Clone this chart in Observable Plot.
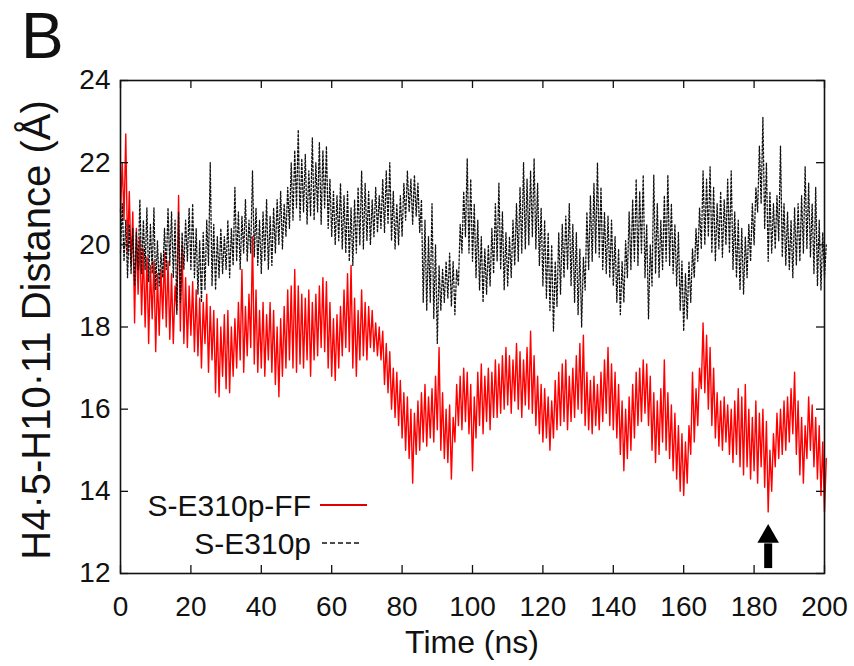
<!DOCTYPE html>
<html>
<head>
<meta charset="utf-8">
<script src="https://cdn.jsdelivr.net/npm/d3@7"></script>
<script src="https://cdn.jsdelivr.net/npm/@observablehq/plot@0.6"></script>
<style>
  html, body { margin: 0; padding: 0; background: #fff; }
  #wrap { position: relative; width: 854px; height: 666px; font-family: "Liberation Sans", Arial, sans-serif; color: #111; overflow: hidden; }
  #wrap svg.plot { position: absolute; left: 0; top: 0; }
  .ov { position: absolute; white-space: nowrap; line-height: 1; }
</style>
</head>
<body>
<div id="wrap">
  <div class="ov" id="panel" style="left:21px; top:1px; font-size:64px; line-height:1.12;">B</div>
  <div class="ov" id="ylab" style="left:36px; top:330px; font-size:40px; transform: translate(-50%,-50%) rotate(-90deg);">H4·5-H10·11 Distance (Å)</div>
  <div class="ov" id="xlab" style="left:472px; top:626px; font-size:32px; transform: translateX(-50%);">Time (ns)</div>
  <div class="ov" style="left:0; width:311px; text-align:right; top:491px; font-size:30px;">S-E310p-FF</div>
  <div class="ov" style="left:0; width:311px; text-align:right; top:529px; font-size:30px;">S-E310p</div>
  <svg class="ov" width="60" height="80" style="left:315px; top:480px;">
    <line x1="5" x2="52" y1="25" y2="25" stroke="#e00000" stroke-width="2"></line>
    <line x1="7" x2="47" y1="63" y2="63" stroke="#111" stroke-width="1.5" stroke-dasharray="5,3"></line>
  </svg>
</div>
<script>
// ---- data (1-ns bins: low / high envelope) ----
const times = d3.range(0, 201); // ns
const redLo = [20.8,20.6,19.8,19.5,18.1,18.8,18.3,18.0,17.6,18.2,
17.4,17.8,18.2,18.0,17.7,17.6,18.4,17.9,17.6,17.5,
17.8,17.4,17.3,17.0,17.6,16.9,17.2,16.4,16.3,16.8,
16.5,16.4,16.8,17.0,17.2,16.9,17.3,17.5,17.1,16.9,
17.0,16.8,17.2,16.9,16.6,16.3,16.8,17.0,17.2,17.0,
16.9,17.1,17.0,17.2,16.8,17.2,17.3,17.5,17.4,17.0,
16.8,16.7,17.0,17.3,17.5,17.4,17.0,16.8,17.2,17.3,
17.2,17.5,17.4,17.3,17.2,16.6,16.4,16.0,15.8,15.6,
15.3,15.0,14.8,14.2,14.9,15.0,15.2,15.1,15.3,15.2,
15.5,15.0,14.8,14.7,14.3,15.2,15.6,15.5,15.7,15.4,
14.5,15.3,15.6,15.4,15.7,15.5,15.8,15.8,15.9,16.0,
16.1,15.9,16.2,16.0,15.8,16.1,16.0,15.9,15.6,15.4,
15.2,15.3,15.0,15.3,15.5,15.6,15.7,15.5,15.7,15.8,
16.0,15.9,15.6,15.5,15.4,15.6,15.5,15.7,15.9,15.6,
15.5,15.3,14.9,14.5,14.8,15.0,15.3,15.6,15.7,15.9,
15.6,15.0,14.7,14.9,15.2,15.0,14.8,14.5,14.3,14.0,
13.9,14.2,14.9,15.2,15.6,16.5,16.4,16.0,15.6,15.3,
15.1,15.0,15.2,14.9,14.7,14.9,14.6,14.4,14.6,14.3,
14.5,14.2,14.6,14.1,13.5,14.0,14.6,14.8,14.9,15.0,
15.2,15.4,14.9,14.4,14.2,14.8,15.0,14.6,14.3,13.9,
13.5];
const redHi = [22.0,22.7,21.3,20.8,20.4,20.2,19.9,19.7,19.5,19.6,
19.3,19.4,19.8,19.6,19.3,19.0,21.2,20.0,19.2,19.0,
19.1,18.9,18.7,18.6,18.8,18.5,18.4,18.2,18.0,18.3,
18.4,18.0,18.2,18.6,19.4,18.5,18.8,20.2,18.9,18.4,
18.6,18.3,18.6,18.4,18.0,18.2,18.5,18.9,19.0,19.4,
19.0,18.8,18.7,18.9,18.6,18.8,19.0,19.2,19.1,18.6,
18.2,18.3,18.5,18.9,19.3,19.5,18.7,18.4,18.9,18.6,
18.5,18.4,18.1,18.0,17.9,17.6,17.4,17.0,16.9,16.7,
16.4,16.3,16.0,15.9,16.2,16.4,16.6,16.3,16.5,16.8,
17.5,16.4,16.0,16.1,15.8,16.6,16.8,17.0,16.9,16.6,
16.3,16.9,17.1,16.8,17.0,16.9,17.2,17.1,17.3,17.5,
17.3,17.2,17.6,17.4,17.2,17.5,17.9,17.3,16.8,16.6,
16.5,16.3,16.2,16.7,16.9,17.1,17.2,16.8,17.0,17.3,
17.6,17.8,16.9,16.7,16.8,16.6,16.9,17.2,17.5,17.1,
16.9,16.6,16.2,16.0,16.3,16.6,16.9,17.0,17.2,17.1,
16.8,16.4,16.2,16.5,17.2,16.4,16.1,15.9,15.6,15.4,
15.2,15.6,16.9,16.5,17.0,18.1,17.8,17.5,17.0,16.4,
16.2,16.3,16.1,16.0,16.2,16.5,16.3,16.6,16.0,15.8,
16.2,15.9,16.0,15.7,15.0,15.4,15.9,16.0,16.2,16.3,
16.5,16.9,16.2,15.8,15.6,16.3,16.1,15.8,15.6,15.2,
14.8];
const blackLo = [19.8,19.6,19.2,19.3,19.0,19.4,19.3,19.4,19.1,19.3,
18.9,19.0,19.2,19.4,19.5,19.2,18.3,18.6,19.4,19.6,
19.4,19.2,18.8,18.6,18.9,19.5,19.0,18.9,19.2,19.3,
19.4,19.2,19.5,19.6,19.4,19.8,19.6,19.8,19.7,19.5,
19.3,19.6,19.4,19.5,19.8,20.0,19.9,20.2,20.4,20.6,
20.9,20.6,20.8,20.5,20.7,20.6,20.8,20.5,20.9,20.4,
20.2,20.0,20.1,19.9,19.8,19.6,19.5,19.8,20.0,19.9,
20.1,20.0,20.2,20.3,20.4,20.3,20.5,20.1,19.9,20.0,
20.2,20.6,20.8,20.5,20.7,20.3,18.6,18.4,18.6,18.2,
17.6,18.4,18.6,18.7,18.5,18.3,19.0,19.8,20.2,19.8,
19.6,19.2,18.9,18.6,18.8,19.0,19.3,19.6,19.4,18.9,
19.0,19.2,19.5,19.6,19.8,19.9,20.0,20.2,19.9,19.5,
19.0,18.7,18.4,17.9,18.5,18.8,19.2,19.4,19.0,18.6,
18.3,18.0,18.9,19.4,19.6,19.8,19.7,19.4,19.3,19.2,
19.0,18.6,18.3,18.6,19.2,19.4,19.6,19.5,19.8,19.2,
18.2,19.0,19.3,19.2,19.4,19.6,19.5,19.3,19.0,18.4,
17.9,18.2,18.6,19.2,19.6,19.9,20.0,20.2,19.8,19.6,
19.9,19.7,20.0,19.8,19.4,19.2,18.9,18.8,19.2,19.6,
20.0,20.8,21.0,20.4,19.6,19.8,19.9,20.1,19.7,19.5,
19.4,19.2,19.5,19.6,19.8,19.9,19.7,19.3,19.0,18.9,
19.2];
const blackHi = [21.0,20.6,20.5,20.4,20.3,21.1,20.6,20.9,20.5,20.9,
20.1,19.8,20.4,20.9,20.8,20.6,20.8,20.3,20.6,20.9,
21.0,20.4,20.1,20.3,20.6,22.0,20.5,20.2,20.4,20.2,
20.6,20.4,21.4,20.8,20.7,21.1,20.6,21.8,20.9,20.6,
20.8,21.1,20.7,20.9,21.1,21.3,21.0,21.4,22.0,22.3,
22.8,22.1,22.2,21.8,22.6,22.0,22.5,22.3,22.4,21.6,
21.3,21.2,21.5,21.2,21.3,20.9,21.1,21.4,21.8,21.5,
21.3,21.1,21.4,21.2,21.6,21.8,22.0,21.3,21.0,21.2,
21.5,21.8,21.6,21.7,21.5,21.1,20.6,20.2,21.0,20.0,
19.5,19.4,19.6,19.8,19.6,19.4,20.5,21.3,22.1,21.6,
21.0,20.6,20.2,19.9,20.0,20.4,21.0,21.5,20.8,20.3,
20.2,20.6,21.0,21.4,22.0,21.6,21.8,22.1,21.5,20.9,
20.6,20.3,20.0,19.6,20.3,20.5,20.7,21.0,20.5,20.3,
19.9,19.7,20.8,21.2,21.5,22.0,21.4,20.8,20.7,20.6,
20.2,19.9,19.6,20.1,20.8,21.1,21.6,21.3,21.7,20.5,
20.0,21.7,21.0,20.6,21.2,21.7,21.0,20.5,20.3,19.6,
19.3,19.6,19.9,20.4,20.9,21.8,21.6,21.9,21.4,21.0,
21.3,21.1,21.6,21.8,20.8,20.6,20.4,20.2,20.5,21.0,
21.4,22.4,23.1,22.0,21.3,21.0,21.2,22.4,21.0,20.8,
20.6,20.9,21.0,21.2,21.9,21.5,21.0,21.4,20.6,20.3,
20.0];
const xTicks = [0, 20, 40, 60, 80, 100, 120, 140, 160, 180, 200];
const yTicks = [12, 14, 16, 18, 20, 22, 24];
const arrowT = [184];
const arrowStem = [12.12, 12.72];
const arrowHead = [12.9];

// ---- build traces: each bin contributes its low then its high value ----
function trace(lo, hi) {
  const pts = [];
  times.forEach((t, i) => {
    pts.push({t: t, v: lo[i]});
    pts.push({t: t + 0.5, v: hi[i]});
  });
  return pts;
}
const redTrace = trace(redLo, redHi);
const blackTrace = trace(blackLo, blackHi);

const W = 854, H = 666, mL = 120, mR = 30, mT = 80, mB = 93;
const innerW = W - mL - mR, innerH = H - mT - mB, tick = 8;

const chart = Plot.plot({
  width: W, height: H,
  marginLeft: mL, marginRight: mR, marginTop: mT, marginBottom: mB,
  style: {fontFamily: "'Liberation Sans', Arial, sans-serif", color: "#111", background: "white"},
  x: {domain: [0, 200]},
  y: {domain: [12, 24]},
  marks: [
    Plot.line(redTrace, {x: "t", y: "v", stroke: "#ff0000", strokeWidth: 1.4}),
    Plot.line(blackTrace, {x: "t", y: "v", stroke: "#111", strokeWidth: 1.3, strokeDasharray: "2,2"}),
    Plot.ruleX(arrowT, {x: d => d, y1: arrowStem[0], y2: arrowStem[1], stroke: "black", strokeWidth: 8}),
    Plot.dot(arrowT, {x: d => d, y: arrowHead[0], symbol: "triangle", r: 8, fill: "black", stroke: null}),
    Plot.ruleX(xTicks, {x: d => d, insetTop: innerH - tick, stroke: "#111", strokeWidth: 1.3}),
    Plot.ruleX(xTicks, {x: d => d, insetBottom: innerH - tick, stroke: "#111", strokeWidth: 1.3}),
    Plot.ruleY(yTicks, {y: d => d, insetRight: innerW - tick, stroke: "#111", strokeWidth: 1.3}),
    Plot.ruleY(yTicks, {y: d => d, insetLeft: innerW - tick, stroke: "#111", strokeWidth: 1.3}),
    Plot.frame({stroke: "#111", strokeWidth: 1.6}),
    Plot.axisX({ticks: xTicks, tickSize: 0, tickPadding: 23, fontSize: 28, label: null}),
    Plot.axisY({ticks: yTicks, tickSize: 0, tickPadding: 10, fontSize: 28, label: null})
  ]
});
chart.classList.add("plot");
document.getElementById("wrap").prepend(chart);
</script>
</body>
</html>
